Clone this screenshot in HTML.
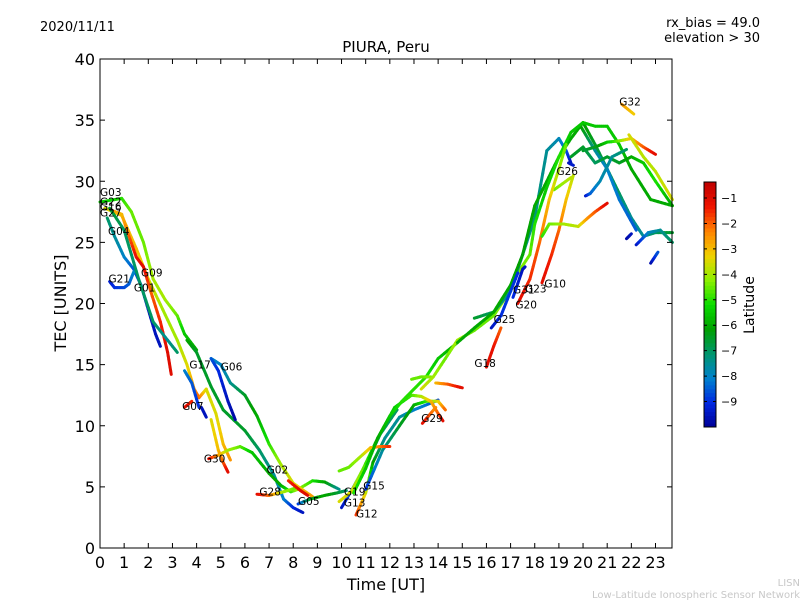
<!DOCTYPE html>
<html><head><meta charset="utf-8"><style>
html,body{margin:0;padding:0;background:#fff;}
svg{display:block;font-family:"DejaVu Sans","Liberation Sans",sans-serif;}
</style></head><body>
<svg id="chart" width="800" height="600" viewBox="0 0 800 600" xmlns="http://www.w3.org/2000/svg">
<rect width="800" height="600" fill="#fff"/>
<text x="40" y="31" font-size="13">2020/11/11</text>
<text x="760" y="27" font-size="13" text-anchor="end">rx_bias = 49.0</text>
<text x="760" y="42" font-size="13" text-anchor="end">elevation &gt; 30</text>
<text x="386" y="52" font-size="15" text-anchor="middle">PIURA, Peru</text>
<g id="marks"></g>
<g id="labels" font-size="10.5"></g>
<rect x="100" y="59" width="572" height="489" fill="none" stroke="#000" stroke-width="1"/>
<g id="axes"></g>
<text x="386" y="590" font-size="16" text-anchor="middle">Time [UT]</text>
<text transform="translate(66,303) rotate(-90)" font-size="16" text-anchor="middle">TEC [UNITS]</text>
<g id="cbar"></g>
<text transform="translate(754,305) rotate(-90)" font-size="14" text-anchor="middle">Latitude</text>
<text x="800" y="586" font-size="10" fill="#c8c8c8" text-anchor="end">LISN</text>
<text x="800" y="598" font-size="10" fill="#c8c8c8" text-anchor="end">Low-Latitude Ionospheric Sensor Network</text>
</svg>
<script>
const xTicks=[0,1,2,3,4,5,6,7,8,9,10,11,12,13,14,15,16,17,18,19,20,21,22,23];
const yTicks=[0,5,10,15,20,25,30,35,40];
const cbTicks=[-1,-2,-3,-4,-5,-6,-7,-8,-9];
const latMin=-10, latMax=-0.37;
// each track: [time, tec, latitude]
const trkG03=[[0,28.3,-5.5],[0.9,28.6,-5],[1.3,27.5,-4.5],[1.8,25,-4.5],[2.2,22,-4],[2.7,20.3,-4],[3.2,19,-4.5],[3.5,17.5,-5.5],[4,16.2,-6]];
const trkB=[[3.6,17,-6],[4,16,-6.5],[4.6,13.2,-6.5],[5.1,11.3,-6.5],[6,9.6,-6.5],[6.6,8,-7],[7.2,6,-7.5],[7.6,4,-8],[8,3.3,-9],[8.4,2.9,-9.5]];
const trkYel=[[0.2,27.8,-3.5],[0.9,27.2,-3],[1.5,24.5,-3],[2,22,-3.5],[2.6,19.5,-4],[3.2,17,-4],[3.6,15,-3.5],[3.9,13,-2.5],[4.1,12.3,-2],[4.4,13,-3.5],[4.8,11,-3.5],[5.1,8.5,-3],[5.4,7.2,-2.5]];
const trkRedEnd=[[4.6,10.5,-3.5],[4.9,8,-3],[5.1,7,-2],[5.3,6.2,-1]];
const trkG30=[[4.5,7.3,-1],[4.9,7.6,-2.5],[5.3,8,-4],[5.8,8.3,-4.5],[6.3,7.8,-5.5],[7,6.1,-6],[7.5,5.1,-6],[7.9,4.6,-5],[8.2,4.8,-4],[8.8,5.5,-5],[9.3,5.4,-6],[9.9,4.8,-7.5]];
const trkG06=[[4.6,15.5,-8],[5,15,-8],[5.4,13.5,-7.5],[6,12.5,-6.5],[6.5,10.8,-6],[7,8.5,-5],[7.5,6.8,-4],[8,5.3,-3.5],[8.8,4.2,-2.5]];
const trkG06b=[[4.6,15.5,-8.5],[4.9,14.5,-9],[5.3,12,-9.5],[5.6,10.5,-9.8]];
const trkG28=[[6.5,4.4,-1],[7,4.3,-2],[7.6,4.6,-4],[8.1,4.9,-4.5]];
const trkG02r=[[7.8,5.5,-1.5],[8.3,4.7,-1],[8.6,4.3,-1]];
const trkG05=[[8.2,3.6,-9],[8.7,4,-6.5],[9.3,4.3,-6],[9.8,4.5,-6.5],[10.2,4.7,-7]];
const trkG04=[[0.3,27,-7],[0.6,25.5,-7.5],[1,23.8,-8],[1.4,22.8,-8.5],[1.7,21.5,-9],[2,19.5,-9.5],[2.3,17.5,-9.5],[2.5,16.5,-9.5]];
const trkG21=[[0.4,21.8,-9.3],[0.6,21.3,-9],[1,21.3,-8.7],[1.2,21.6,-8.5],[1.4,22.6,-8]];
const trkG09=[[0.5,27.6,-2.5],[0.9,27.3,-3],[1.2,25.5,-2],[1.5,23.8,-1.2],[1.8,23,-1],[2.1,21,-2],[2.5,18.5,-1.5],[2.8,16,-1],[2.95,14.2,-1]];
const trkTeal=[[0.4,27.8,-6.5],[1,26,-7],[1.6,22,-7],[2.2,18.5,-7],[2.8,17,-7.5],[3.2,16,-7]];
const trkG17=[[3.5,14.5,-8],[3.8,13.5,-8.5],[4.1,11.5,-9]];
const trkG07=[[3.5,11.5,-1],[3.8,12,-1.5]];
const trkG07b=[[4.2,11.5,-9.5],[4.4,10.7,-9.5]];
const trkG29=[[10.6,2.7,-1.5],[11,4.5,-3.5],[11.3,7,-6],[11.8,9,-7.5],[12.4,10.7,-7.5],[13,11.3,-8],[13.5,11.7,-8.2],[14,12.1,-8.8]];
const trkG13=[[10,3.3,-9.5],[10.5,5,-8.5],[11.1,7.2,-7.5],[11.6,9.3,-7],[12.3,11.3,-7]];
const trkG15=[[11,4.8,-9],[11.7,8,-7.5],[12.4,10,-6.5],[13,11.7,-6],[13.5,12,-5],[14,12,-3.5],[14.3,11.3,-2]];
const trkG29r=[[13.35,10.2,-1],[13.9,11.5,-2.5]];
const trkG19=[[9.9,3.8,-3.5],[10.4,4.6,-3.5],[10.9,6.5,-4.5],[11.5,9,-6],[12.2,11.5,-5.5],[12.9,12.5,-4.8],[13.3,12.4,-4],[13.7,12,-3],[14,11,-2],[14.2,10.4,-1]];
const trkLimeFlat=[[9.9,6.3,-4.5],[10.3,6.6,-4.5],[10.8,7.5,-4],[11.2,8.2,-3],[11.6,8.3,-2.3],[12,8.3,-1.5]];
const trkGreenUp=[[10.5,4.5,-5],[11,6.5,-5.5],[11.5,9,-6],[12,10.8,-5.5],[12.5,12,-5],[13,13,-5],[13.5,14,-5],[14,15.5,-5.5],[14.8,16.8,-6]];
const trkLime2=[[12.9,13.8,-4.5],[13.3,14,-4.5],[13.7,14,-4.3]];
const trkOrange=[[13.9,13.5,-3],[14.4,13.4,-2],[15,13.1,-1]];
const trkYelUp=[[13.3,13,-3.5],[13.8,14,-4],[14.3,15.5,-4.5],[14.8,17,-4],[15.5,17.8,-4.5],[16.3,19,-4.5],[16.8,20.5,-4],[17.3,22.5,-4.2],[17.8,24,-4.5]];
const trkTealLate=[[15.5,18.8,-6.5],[16.3,19.3,-7],[17,21,-7.5],[17.5,24,-7.5],[18,27,-7.2],[18.5,32.5,-7.5],[19,33.5,-7.8],[19.3,32.5,-8.5],[19.5,31.5,-9.5]];
const trkGreenLate=[[14.8,16.8,-6],[15.5,18,-6],[16.3,19.3,-6],[17,21.5,-6],[17.5,24,-6.2],[18,28,-6],[18.5,30,-6],[19,32,-6],[19.5,33.5,-6],[20,34.8,-6],[20.5,33,-6.5],[21,31,-7],[21.5,29,-7],[22,27,-7.5],[22.5,25.5,-7.5],[23,25.8,-7],[23.7,25.8,-6.5]];
const trkTealDown=[[19.9,34.5,-6],[20.5,32.5,-7.5],[21,31,-8],[21.5,28.5,-8.2],[22.2,26,-8.5]];
const trkLimeLate=[[17.8,24,-4.5],[18,26.5,-5],[18.5,29.5,-5.5],[19,32,-5],[19.5,34,-5.5],[20,34.8,-5.5],[20.5,34.5,-5.5],[21,34.5,-5.5],[21.5,33,-5.5],[22,31,-6],[22.8,28.5,-6],[23.7,28,-6]];
const trkJag=[[20,32.5,-6.5],[20.5,32.8,-6.5],[21,33.2,-5.5],[21.5,33.3,-4.5],[22,33.5,-3],[22.5,32.8,-2],[23,32.2,-1]];
const trkGreen2=[[19.5,32,-6.5],[20,32.8,-6.5],[20.5,31.5,-7],[21,32,-6.5],[21.5,31.5,-6.5],[22,32,-6],[22.5,31.5,-5.5],[23,30,-5],[23.7,28,-6]];
const trkYelLate=[[21.9,33.8,-3.5],[22.5,32,-3.8],[23,30.8,-3.8],[23.7,28.5,-3.5]];
const trkG32=[[21.6,36.3,-2.5],[22.1,35.5,-3.2]];
const trkG26=[[18.8,29.3,-4.5],[19.5,30.3,-3.8]];
const trkG10=[[18.3,21.7,-1],[18.7,24,-1.5],[19,26,-2],[19.3,28.5,-3],[19.6,30.5,-3.8]];
const trkG23=[[17.3,20,-1],[17.8,22,-1.5],[18.2,25,-2],[18.6,28.5,-3],[19,31,-4],[19.3,33,-4.5]];
const trkFlat=[[18.3,25.5,-5],[18.6,26.5,-4.5],[19.2,26.5,-4],[19.8,26.3,-3.8],[20.2,27,-2.5],[20.5,27.5,-2],[21,28.2,-1]];
const trkB1=[[19.4,31.5,-9.5],[19.6,31.3,-9.3]];
const trkB2=[[20.1,28.8,-9.5],[20.3,29,-8.5],[20.7,30,-7.8],[21.2,32,-7.5],[21.8,32.6,-7]];
const trkB3=[[21.8,25.3,-9.8],[22,25.7,-9.5]];
const trkB4=[[22.2,24.8,-9.5],[22.7,25.8,-8],[23.2,26,-7.5],[23.7,25,-7]];
const trkB5=[[22.8,23.3,-9.8],[23.1,24.2,-8.5]];
const trkG20=[[16.2,18,-9.5],[16.6,19,-9],[17,21,-8.8],[17.3,22.5,-9]];
const trkG25=[[17.1,20.5,-9],[17.5,22.8,-9.5],[17.6,23,-9.5]];
const trkG18=[[16,14.8,-1],[16.3,16.5,-1.2],[16.6,18,-2]];
const tracks=[trkG03,trkB,trkYel,trkRedEnd,trkG30,trkG06,trkG06b,trkG28,trkG02r,trkG05,trkG04,trkG21,trkG09,trkTeal,trkG17,trkG07,trkG07b,trkG29,trkG13,trkG15,trkG29r,trkG19,trkLimeFlat,trkGreenUp,trkLime2,trkOrange,trkYelUp,trkTealLate,trkGreenLate,trkTealDown,trkLimeLate,trkJag,trkGreen2,trkYelLate,trkG32,trkG26,trkG10,trkG23,trkFlat,trkB1,trkB2,trkB3,trkB4,trkB5,trkG20,trkG25,trkG18];
const satNames=["G03","G22","G16","G27","G04","G21","G09","G01","G17","G06","G07","G30","G02","G28","G05","G19","G13","G12","G15","G29","G18","G25","G31","G23","G20","G10","G26","G32"];
const satLabelT=[0,0,0,0,0.33,0.35,1.7,1.4,3.7,5,3.4,4.3,6.9,6.6,8.2,10.1,10.1,10.6,10.9,13.3,15.5,16.3,17.1,17.6,17.2,18.4,18.9,21.5];
const satLabelV=[28.8,28,27.6,27.1,25.6,21.7,22.2,21,14.7,14.5,11.3,7,6.1,4.3,3.5,4.3,3.4,2.5,4.8,10.3,14.8,18.4,20.8,20.9,19.6,21.3,30.5,36.2];

const X0=100,X1=672,Y0=548,Y1=59;
const xs=t=>X0+t*(655.5-100)/23;
const ys=v=>Y0-v*(Y0-Y1)/40;
const cmapStops=[[0,[0,0,150]],[0.1,[0,40,225]],[0.2,[0,130,205]],[0.3,[0,150,110]],[0.4,[0,160,0]],[0.5,[10,220,0]],[0.6,[140,240,0]],[0.7,[240,210,0]],[0.8,[255,130,0]],[0.9,[240,20,0]],[1,[190,0,0]]];
function cmap(v){v=Math.max(0,Math.min(1,v));
 for(let i=0;i<cmapStops.length-1;i++){const a=cmapStops[i],b=cmapStops[i+1];
  if(v<=b[0]){const u=(v-a[0])/(b[0]-a[0]);const c=a[1].map((x,k)=>Math.round(x+(b[1][k]-x)*u));return `rgb(${c[0]},${c[1]},${c[2]})`;}}
 return 'rgb(190,0,0)';}
const latColor=l=>cmap((l-latMin)/(latMax-latMin));
const NS="http://www.w3.org/2000/svg";
const marks=document.getElementById('marks');
tracks.forEach((tr,ti)=>{
 const g=document.createElementNS(NS,'g');
 
 
 for(let i=0;i<tr.length-1;i++){
  const a=tr[i],b=tr[i+1];const n=6;
  for(let k=0;k<n;k++){
   const u0=k/n,u1=(k+1)/n;
   const ln=document.createElementNS(NS,'line');
   ln.setAttribute('x1',xs(a[0]+(b[0]-a[0])*u0));ln.setAttribute('y1',ys(a[1]+(b[1]-a[1])*u0));
   ln.setAttribute('x2',xs(a[0]+(b[0]-a[0])*u1));ln.setAttribute('y2',ys(a[1]+(b[1]-a[1])*u1));
   ln.setAttribute('stroke',latColor(a[2]+(b[2]-a[2])*(u0+u1)/2));
   ln.setAttribute('stroke-width','3');ln.setAttribute('stroke-linecap','round');
   
   
   g.appendChild(ln);
  }
 }
 marks.appendChild(g);
});
const labels=document.getElementById('labels');
satNames.forEach((s,i)=>{
 const t=document.createElementNS(NS,'text');
 t.setAttribute('x',xs(satLabelT[i]));t.setAttribute('y',ys(satLabelV[i]));
 t.textContent=s;
 
 
 labels.appendChild(t);
});
const axes=document.getElementById('axes');
xTicks.forEach(t=>{
 const x=xs(t);
 const l=document.createElementNS(NS,'path');
 l.setAttribute('d',`M${x} ${Y0}v-5M${x} ${Y1}v5`);l.setAttribute('stroke','#000');
 
 
 axes.appendChild(l);
 const tx=document.createElementNS(NS,'text');
 tx.setAttribute('x',x);tx.setAttribute('y',568);tx.setAttribute('font-size','16');tx.setAttribute('text-anchor','middle');
 tx.textContent=t;
 
 
 axes.appendChild(tx);
});
yTicks.forEach(v=>{
 const y=ys(v);
 const l=document.createElementNS(NS,'path');
 l.setAttribute('d',`M${X0} ${y}h5M${X1} ${y}h-5`);l.setAttribute('stroke','#000');
 
 
 axes.appendChild(l);
 const tx=document.createElementNS(NS,'text');
 tx.setAttribute('x',95);tx.setAttribute('y',y+6);tx.setAttribute('font-size','16');tx.setAttribute('text-anchor','end');
 tx.textContent=v;
 
 
 axes.appendChild(tx);
});
const cb=document.getElementById('cbar');
const CB0=427,CB1=182,CBX=704,CBW=12;
const cy=l=>CB0-(l-latMin)/(latMax-latMin)*(CB0-CB1);
for(let i=0;i<64;i++){
 const r=document.createElementNS(NS,'rect');
 const y0=CB0-(i+1)*(CB0-CB1)/64;
 r.setAttribute('x',CBX);r.setAttribute('y',y0);r.setAttribute('width',CBW);r.setAttribute('height',(CB0-CB1)/64+0.5);
 r.setAttribute('fill',cmap((i+0.5)/64));
 
 
 cb.appendChild(r);
}
const fr=document.createElementNS(NS,'rect');
fr.setAttribute('x',CBX);fr.setAttribute('y',CB1);fr.setAttribute('width',CBW);fr.setAttribute('height',CB0-CB1);
fr.setAttribute('fill','none');fr.setAttribute('stroke','#000');


cb.appendChild(fr);
cbTicks.forEach(v=>{
 const y=cy(v);
 const l=document.createElementNS(NS,'path');
 l.setAttribute('d',`M${CBX} ${y}h3M${CBX+CBW} ${y}h-3`);l.setAttribute('stroke','#000');
 
 
 cb.appendChild(l);
 const tx=document.createElementNS(NS,'text');
 tx.setAttribute('x',721);tx.setAttribute('y',y+4);tx.setAttribute('font-size','11');
 tx.textContent='\u2212'+Math.abs(v);
 
 
 cb.appendChild(tx);
});
</script>
</body></html>
